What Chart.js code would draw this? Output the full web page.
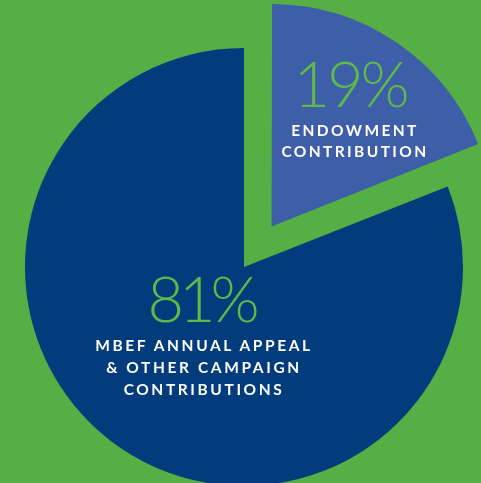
<!DOCTYPE html>
<html>
<head>
<meta charset="utf-8">
<script src="https://cdn.jsdelivr.net/npm/chart.js@4.4.1/dist/chart.umd.min.js"></script>
<style>
    html, body {
        margin: 0;
        padding: 0;
        width: 481px;
        height: 483px;
        overflow: hidden;
        background: #55af44;
    }
    #wrap {
        position: relative;
        width: 481px;
        height: 483px;
        overflow: hidden;
    }
    #pieChart {
        position: absolute;
        left: 0;
        top: 0;
    }
    .pct {
        position: absolute;
        width: 240px;
        text-align: center;
        font-family: Lato, sans-serif;
        font-weight: 300;
        color: #5cba47;
        line-height: 1;
        white-space: nowrap;
    }
    .cap {
        position: absolute;
        width: 300px;
        text-align: center;
        font-family: Lato, sans-serif;
        font-weight: 700;
        color: #ffffff;
        font-size: 15.5px;
        letter-spacing: 2.4px;
        line-height: 22px;
        white-space: nowrap;
    }
</style>
</head>
<body>
<div id="wrap">
    <canvas id="pieChart" width="488" height="534"></canvas>
    <div class="pct" id="pctEndow" style="left:230px; top:51px; font-size:63px; letter-spacing:-3px;"></div>
    <div class="pct" id="pctAnnual" style="left:81px; top:266px; font-size:63px; letter-spacing:-5px;"></div>
    <div class="cap" id="capEndow" style="left:205px; top:120px; line-height:21px;"></div>
    <div class="cap" id="capAnnual" style="left:54px; top:334px; letter-spacing:2.6px;"></div>
</div>
<script>
// Slices, clockwise from the top
const sliceLabels = ['Endowment Contribution', 'MBEF Annual Appeal & Other Campaign Contributions'];
const sliceValues = [19, 81];
const sliceColors = ['#3e5ea9', '#023c7c'];
const sliceOffsets = [196, 0];

// Caption lines shown inside each slice
const endowLines = ['ENDOWMENT', 'CONTRIBUTION'];
const annualLines = ['MBEF ANNUAL APPEAL', '& OTHER CAMPAIGN', 'CONTRIBUTIONS'];

const ctx = document.getElementById('pieChart').getContext('2d');

new Chart(ctx, {
    type: 'pie',
    data: {
        labels: sliceLabels,
        datasets: [{
            data: sliceValues,
            backgroundColor: sliceColors,
            offset: sliceOffsets,
            borderWidth: 0
        }]
    },
    options: {
        responsive: false,
        animation: false,
        events: [],
        radius: 219,
        layout: { padding: 0 },
        plugins: {
            legend: { display: false },
            tooltip: { enabled: false }
        }
    }
});

// Labels
document.getElementById('pctEndow').textContent = sliceValues[0] + '%';
document.getElementById('pctAnnual').textContent = sliceValues[1] + '%';
document.getElementById('capEndow').innerHTML = endowLines.join('<br>');
document.getElementById('capAnnual').innerHTML = annualLines.join('<br>');
</script>
</body>
</html>
